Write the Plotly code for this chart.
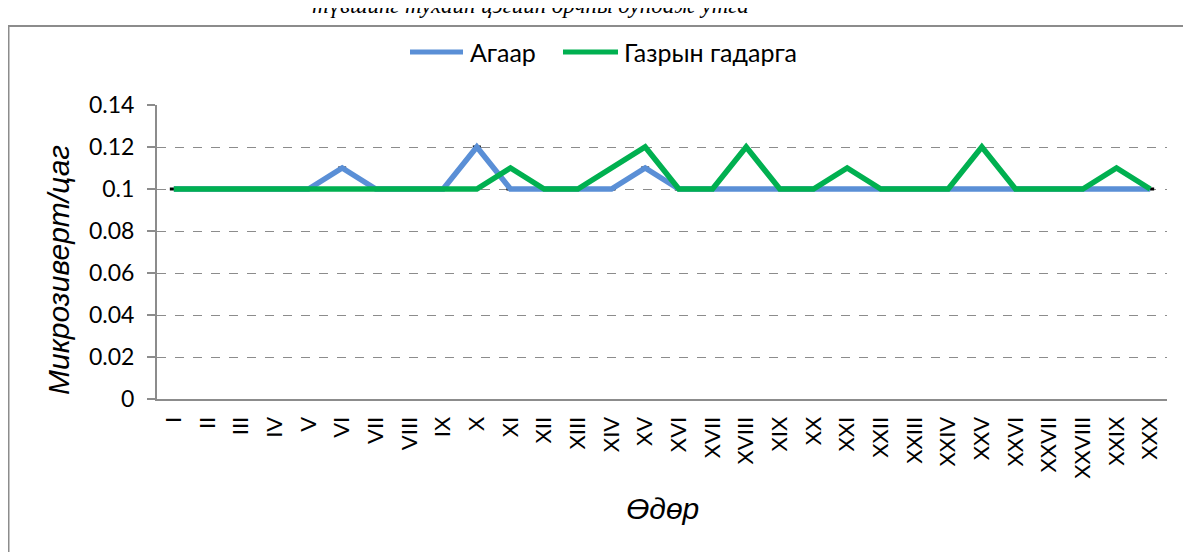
import plotly.graph_objects as go

days = ["I", "II", "III", "IV", "V", "VI", "VII", "VIII", "IX", "X",
        "XI", "XII", "XIII", "XIV", "XV", "XVI", "XVII", "XVIII", "XIX", "XX",
        "XXI", "XXII", "XXIII", "XXIV", "XXV", "XXVI", "XXVII", "XXVIII", "XXIX", "XXX"]
air = [0.10, 0.10, 0.10, 0.10, 0.10, 0.11, 0.10, 0.10, 0.10, 0.12,
       0.10, 0.10, 0.10, 0.10, 0.11, 0.10, 0.10, 0.10, 0.10, 0.10,
       0.10, 0.10, 0.10, 0.10, 0.10, 0.10, 0.10, 0.10, 0.10, 0.10]
ground = [0.10, 0.10, 0.10, 0.10, 0.10, 0.10, 0.10, 0.10, 0.10, 0.10,
          0.11, 0.10, 0.10, 0.11, 0.12, 0.10, 0.10, 0.12, 0.10, 0.10,
          0.11, 0.10, 0.10, 0.10, 0.12, 0.10, 0.10, 0.10, 0.11, 0.10]
err = [0.0003] * len(days)
y_ticks = [0, 0.02, 0.04, 0.06, 0.08, 0.1, 0.12, 0.14]
y_tick_text = ["0", "0.02", "0.04", "0.06", "0.08", "0.1", "0.12", "0.14"]
series_names = ["Агаар", "Газрын гадарга"]
series_colors = ["#5A8FD6", "#00B050"]

# page has an 8px body margin: the figure is offset by (8, 8)
OFF = 8
W, H = 1191 - OFF, 552 - OFF
L, T = 157 - OFF, 105 - OFF
R = W - (1167 - OFF)
B = H - (399 - OFF)
pw, ph = W - L - R, H - T - B


def px_x(p):
    return (p - OFF - L) / pw


def px_y(p):
    return 1 + (T - (p - OFF)) / ph


fig = go.Figure()
fig.add_trace(go.Scatter(
    x=days, y=air, name=series_names[0], mode="lines",
    line=dict(color=series_colors[0], width=5.5),
    error_y=dict(type="data", array=err, visible=True, color="black", thickness=1.5, width=4),
))
fig.add_trace(go.Scatter(
    x=days, y=ground, name=series_names[1], mode="lines",
    line=dict(color=series_colors[1], width=5.5),
))

fig.update_layout(
    width=W, height=H,
    margin=dict(l=L, r=R, t=T, b=B),
    paper_bgcolor="white", plot_bgcolor="white",
    font=dict(family="Lato, Liberation Sans, sans-serif", size=20, color="black"),
    showlegend=False,
    xaxis=dict(
        type="category", tickangle=-90, showgrid=False,
        showline=True, linecolor="#8c8c8c", linewidth=2,
        ticks="", tickfont=dict(size=22), automargin=False,
        ticklabelstandoff=7,
        range=[-0.5, 29.5],
    ),
    yaxis=dict(
        range=[0, 0.14], tickvals=y_ticks, ticktext=y_tick_text,
        showgrid=True, gridcolor="#8c8c8c", griddash="dash", gridwidth=1,
        showline=True, linecolor="#8c8c8c", linewidth=2,
        ticks="outside", ticklen=8, tickcolor="#8c8c8c", tickwidth=1.5,
        tickfont=dict(size=23), automargin=False, zeroline=False,
        ticklabelstandoff=8,
    ),
)

title_font = dict(family="Liberation Sans, Arial", size=30, style="italic", color="black")
fig.add_annotation(text="Өдөр", xref="paper", yref="paper", x=px_x(662), y=px_y(508),
                   xanchor="center", yanchor="middle", showarrow=False, font=title_font)
fig.add_annotation(text="Микрозиверт/цаг", xref="paper", yref="paper", x=px_x(58), y=px_y(270),
                   xanchor="center", yanchor="middle", showarrow=False, textangle=-90,
                   font=title_font)

# legend drawn by hand (longer line samples, like the reference)
leg_lines = [(410, 463), (563, 618)]
leg_text_x = [468, 622]
for name, color, (a, b), tx in zip(series_names, series_colors, leg_lines, leg_text_x):
    fig.add_shape(type="line", xref="paper", yref="paper",
                  x0=px_x(a), x1=px_x(b), y0=px_y(52), y1=px_y(52),
                  line=dict(color=color, width=5))
    fig.add_annotation(text=name, xref="paper", yref="paper", x=px_x(tx), y=px_y(52),
                       xanchor="left", yanchor="middle", showarrow=False,
                       font=dict(family="Lato, Liberation Sans", size=25, color="black"))

# caption that is cut off at the top edge in the reference
fig.add_annotation(text="түвшинг тухайн цэгийн орчны дундаж утга", xref="paper", yref="paper",
                   x=px_x(530), y=px_y(6), xanchor="center", yanchor="middle", showarrow=False,
                   font=dict(family="Liberation Serif, Times New Roman", size=23, style="italic", color="black"))
# outer chart border (right and bottom beyond the page)
fig.add_shape(type="rect", xref="paper", yref="paper",
              x0=px_x(8.5), y0=px_y(620), x1=px_x(1260), y1=px_y(26),
              line=dict(color="#8c8c8c", width=2), fillcolor="rgba(0,0,0,0)", layer="below")

fig.write_html("out.html")
